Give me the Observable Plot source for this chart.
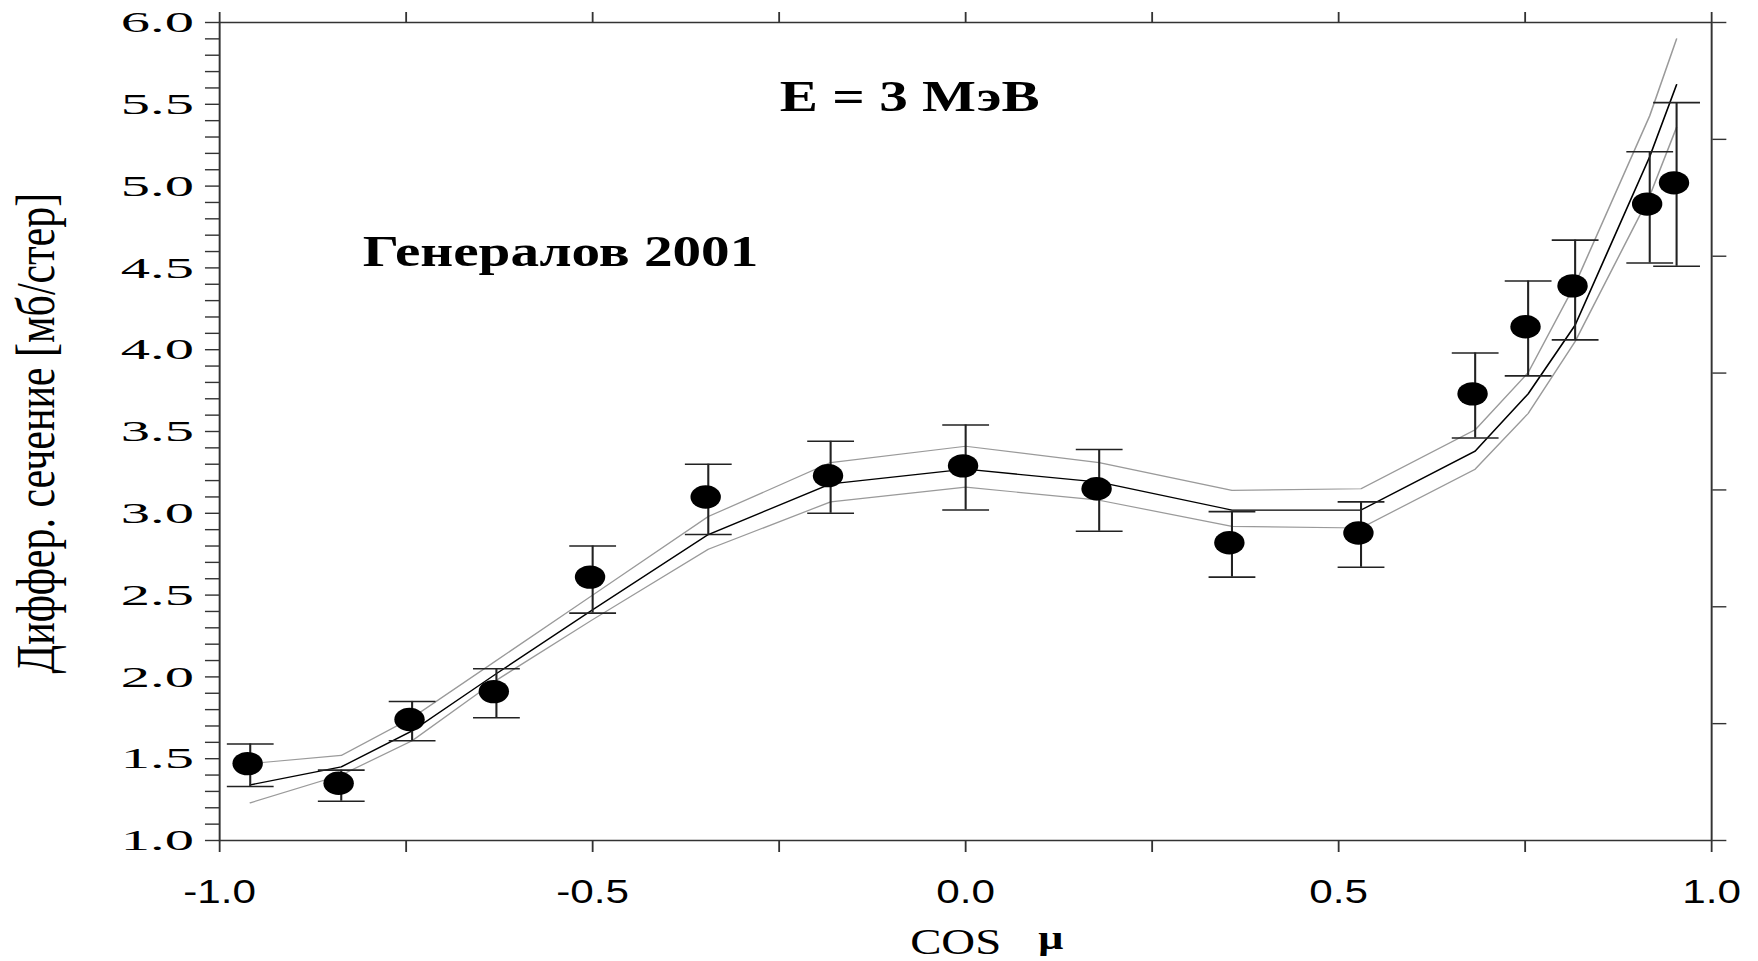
<!DOCTYPE html>
<html>
<head>
<meta charset="utf-8">
<script src="https://cdn.jsdelivr.net/npm/d3@7"></script>
<script src="https://cdn.jsdelivr.net/npm/@observablehq/plot@0.6"></script>
<style>
  html, body { margin: 0; padding: 0; background: #fff; overflow: hidden; }
</style>
</head>
<body>
<div id="chart"></div>
<script>
// ---- data ----
const cosTheta  = [-0.959, -0.837, -0.742, -0.629, -0.500, -0.345, -0.181, 0.000, 0.179, 0.357, 0.530, 0.683, 0.754, 0.817, 0.917, 0.953];
const sigma     = [1.47, 1.35, 1.74, 1.91, 2.61, 3.10, 3.23, 3.29, 3.15, 2.82, 2.88, 3.73, 4.14, 4.39, 4.89, 5.02];
const errLow    = [1.33, 1.24, 1.61, 1.75, 2.39, 2.87, 3.00, 3.02, 2.89, 2.61, 2.67, 3.46, 3.84, 4.06, 4.53, 4.51];
const errHigh   = [1.59, 1.43, 1.85, 2.05, 2.80, 3.30, 3.44, 3.54, 3.39, 3.01, 3.07, 3.98, 4.42, 4.67, 5.21, 5.51];
const calc      = [1.34, 1.45, 1.67, 2.02, 2.41, 2.87, 3.18, 3.27, 3.19, 3.02, 3.02, 3.38, 3.73, 4.15, 5.18, 5.62];
const calcUpper = [1.47, 1.52, 1.75, 2.10, 2.50, 2.98, 3.31, 3.41, 3.31, 3.14, 3.15, 3.51, 3.86, 4.40, 5.43, 5.90];
const calcLower = [1.23, 1.40, 1.61, 1.98, 2.35, 2.78, 3.07, 3.16, 3.08, 2.92, 2.91, 3.27, 3.61, 4.05, 4.94, 5.36];

const xTicks = [-1, -0.75, -0.5, -0.25, 0, 0.25, 0.5, 0.75, 1];
const xTickLabels = [-1, -0.5, 0, 0.5, 1];
const yTicks = d3.range(0, 51).map(i => +(1 + i / 10).toFixed(1));
const yTickLabels = [1, 1.5, 2, 2.5, 3, 3.5, 4, 4.5, 5, 5.5, 6];
const yRightTicks = d3.range(0, 8).map(i => 1 + i * 5 / 7);

const titleText = "E = 3 МэВ";
const authorText = "Генералов 2001";
const yLabel = "Диффер. сечение [мб/стер]";
const xLabel = "COS";
const xLabelSym = "μ";

// ---- layout ----
const S = 1.3;               // the original figure is stretched horizontally
const W = 1758 / S, H = 961;
const serif = "'Liberation Serif', 'Times New Roman', Times, serif";
const sans = "'Liberation Sans', Arial, Helvetica, sans-serif";

const points = cosTheta.map((x, i) => ({
  x, y: sigma[i], lo: errLow[i], hi: errHigh[i],
  c: calc[i], cu: calcUpper[i], cl: calcLower[i]
}));

const capSymbol = { draw(ctx) { ctx.moveTo(-18, 0); ctx.lineTo(18, 0); } };
const has = (arr, d) => arr.some(v => Math.abs(v - d) < 1e-9);

const svg = Plot.plot({
  width: W, height: H,
  marginLeft: 219 / S, marginRight: (1758 - 1711) / S,
  marginTop: 22, marginBottom: 121,
  x: { domain: [-1, 1], label: null },
  y: { domain: [1, 6], label: null },
  style: { background: "#fff", color: "#000" },
  marks: [
    Plot.line(points, { x: "x", y: "cu", stroke: "#9a9a9a", strokeWidth: 1.2 }),
    Plot.line(points, { x: "x", y: "cl", stroke: "#9a9a9a", strokeWidth: 1.2 }),
    Plot.line(points, { x: "x", y: "c", stroke: "#000", strokeWidth: 1.3 }),
    Plot.ruleX(points, { x: "x", y1: "lo", y2: "hi", stroke: "#222", strokeWidth: 1.6 }),
    Plot.dot(points, { x: "x", y: "lo", symbol: capSymbol, fill: "none", stroke: "#222", strokeWidth: 1.6 }),
    Plot.dot(points, { x: "x", y: "hi", symbol: capSymbol, fill: "none", stroke: "#222", strokeWidth: 1.6 }),
    Plot.dot(points, { x: "x", y: "y", r: 11.7, fill: "#000", stroke: "none", dx: -2 }),
    Plot.frame({ stroke: "#333", strokeWidth: 1.5 }),
    Plot.axisY({ anchor: "left", ticks: yTicks, tickSize: 10.8, tickPadding: 9, label: null,
      tickFormat: d => has(yTickLabels, d) ? d.toFixed(1) : "",
      fontFamily: serif, fontSize: 30, stroke: "#333", strokeWidth: 1.4 }),
    Plot.axisY({ anchor: "right", ticks: yRightTicks, tickSize: 10.8, label: null,
      tickFormat: () => "", stroke: "#333", strokeWidth: 1.4 }),
    Plot.axisX({ anchor: "bottom", ticks: xTicks, tickSize: 12, tickPadding: 27, label: null,
      tickFormat: d => has(xTickLabels, d) ? d.toFixed(1) : "",
      fontFamily: sans, fontSize: 32.5, stroke: "#333", strokeWidth: 1.4 }),
    Plot.axisX({ anchor: "top", ticks: xTicks, tickSize: 11, label: null,
      tickFormat: () => "", stroke: "#333", strokeWidth: 1.4 }),
    Plot.text([titleText], { x: -0.075, y: 5.456, text: d => d, fontFamily: serif, fontWeight: "bold",
      fontSize: 44, textAnchor: "middle", lineAnchor: "bottom", fill: "#000" }),
    Plot.text([authorText], { x: -0.543, y: 4.51, text: d => d, fontFamily: serif, fontWeight: "bold",
      fontSize: 44, textAnchor: "middle", lineAnchor: "bottom", fill: "#000" }),
    Plot.text([yLabel], { x: -1.245, y: 3.49, text: d => d, rotate: -90, fontFamily: serif,
      fontSize: 42, textAnchor: "middle", lineAnchor: "middle", fill: "#000" }),
    Plot.text([xLabel], { x: -0.0134, y: 1, dy: 113, text: d => d, fontFamily: serif,
      fontSize: 36, textAnchor: "middle", lineAnchor: "bottom", fill: "#000" }),
    Plot.text([xLabelSym], { x: 0.114, y: 1, dy: 108, text: d => d, fontFamily: serif, fontWeight: "bold",
      fontSize: 34, textAnchor: "middle", lineAnchor: "bottom", fill: "#000" })
  ]
});

// stretch horizontally like the original figure
svg.setAttribute("width", 1758);
svg.setAttribute("height", 961);
svg.setAttribute("preserveAspectRatio", "none");
svg.style.width = "1758px";
svg.style.height = "961px";
svg.style.maxWidth = "none";

// y tick labels in the original are extra wide
svg.querySelectorAll('g[aria-label="y-axis tick label"] text').forEach(t => {
  const tr = t.getAttribute("transform") || "";
  t.setAttribute("transform", tr + " scale(1.5,1)");
});

document.getElementById("chart").appendChild(svg);
</script>
</body>
</html>
